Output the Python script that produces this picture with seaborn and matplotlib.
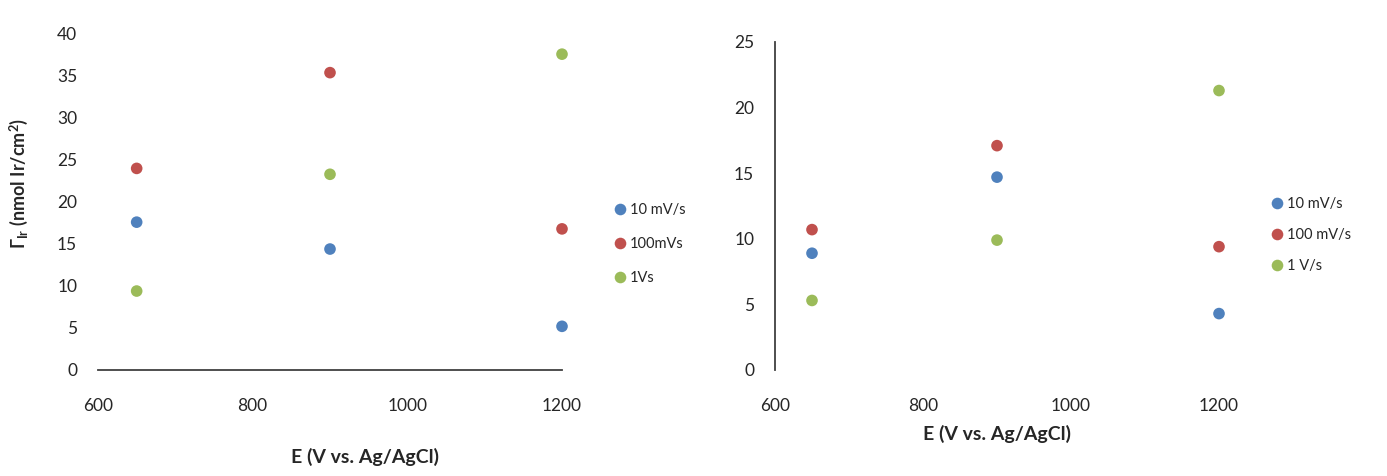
import matplotlib
matplotlib.use("Agg")
import matplotlib.pyplot as plt
import seaborn as sns
import pandas as pd

# ---------------- data ----------------
potential = [650, 900, 1200]

left_labels = ["10 mV/s", "100mVs", "1Vs"]
left_10mV = [17.6, 14.4, 5.2]
left_100mV = [24.0, 35.4, 16.8]
left_1V = [9.4, 23.3, 37.6]

right_labels = ["10 mV/s", "100 mV/s", "1 V/s"]
right_10mV = [8.9, 14.7, 4.3]
right_100mV = [10.7, 17.1, 9.4]
right_1V = [5.3, 9.9, 21.3]

x_ticks = [600, 800, 1000, 1200]
left_y_ticks = [0, 5, 10, 15, 20, 25, 30, 35, 40]
right_y_ticks = [0, 5, 10, 15, 20, 25]

colors = ["#4F81BD", "#C0504D", "#9BBB59"]

# ---------------- style ----------------
sns.set_theme(style="white")
plt.rcParams["font.family"] = ["Lato", "DejaVu Sans"]
plt.rcParams["mathtext.fontset"] = "custom"
plt.rcParams["mathtext.rm"] = "Lato"
plt.rcParams["mathtext.bf"] = "Lato:bold"
plt.rcParams["mathtext.it"] = "Lato:italic"
TXT = "#262626"


def long_df(labels, series):
    rows = []
    for lab, vals in zip(labels, series):
        for e, v in zip(potential, vals):
            rows.append({"E": e, "G": v, "rate": lab})
    return pd.DataFrame(rows)


fig = plt.figure(figsize=(13.87, 4.76), dpi=100)

ax1 = fig.add_axes([98 / 1387, 106 / 476, 464 / 1387, 336 / 476])
ax2 = fig.add_axes([775 / 1387, 106 / 476, 444 / 1387, 328 / 476])

df1 = long_df(left_labels, [left_10mV, left_100mV, left_1V])
df2 = long_df(right_labels, [right_10mV, right_100mV, right_1V])

for ax, df, labels in [(ax1, df1, left_labels), (ax2, df2, right_labels)]:
    sns.scatterplot(data=df, x="E", y="G", hue="rate", hue_order=labels,
                    palette=colors, s=70, edgecolor="none", ax=ax,
                    clip_on=False)

ax1.set_xlim(600, 1200)
ax1.set_ylim(0, 40)
ax1.set_yticks(left_y_ticks)
ax2.set_xlim(600, 1200)
ax2.set_ylim(0, 25)
ax2.set_yticks(right_y_ticks)

for ax in (ax1, ax2):
    ax.set_xticks(x_ticks)
    ax.tick_params(axis="both", length=0, labelsize=12.5, colors=TXT)
    ax.tick_params(axis="x", pad=20)
    ax.tick_params(axis="y", pad=15)
    for sp in ax.spines.values():
        sp.set_visible(False)

ax1.spines["bottom"].set_visible(True)
ax1.spines["bottom"].set_color("#404040")
ax1.spines["bottom"].set_linewidth(1.3)
ax2.spines["left"].set_visible(True)
ax2.spines["left"].set_color("#404040")
ax2.spines["left"].set_linewidth(1.3)

ax1.set_xlabel("E (V vs. Ag/AgCl)", fontsize=14, fontweight="bold", color=TXT)
ax1.xaxis.set_label_coords((365 - 98) / 464, -(448 - 370) / 336)
ax1.set_ylabel(r"Γ$_{\mathbf{Ir}}$ (nmol Ir/cm$^{\mathbf{2}}$)", fontsize=13,
               fontweight="bold", color=TXT)
ax1.yaxis.set_label_coords((30 - 98) / 464, (370 - 183) / 336)

ax2.set_xlabel("E (V vs. Ag/AgCl)", fontsize=14, fontweight="bold", color=TXT)
ax2.xaxis.set_label_coords(0.5, -(425 - 370) / 328)
ax2.set_ylabel("")

# legends
for ax, anchor, spacing in [(ax1, (614 / 1387, 1 - 244 / 476), 1.35),
                            (ax2, (1271 / 1387, 1 - 235 / 476), 1.15)]:
    leg = ax.legend(loc="center left", bbox_to_anchor=anchor,
                    bbox_transform=fig.transFigure, frameon=False,
                    fontsize=10.5, handlelength=0.8, handletextpad=0.3,
                    labelspacing=spacing, borderpad=0, borderaxespad=0,
                    title=None)
    for h in leg.legend_handles:
        try:
            h.set_sizes([40])
        except Exception:
            pass
    for t in leg.get_texts():
        t.set_color(TXT)

fig.savefig("out.png", dpi=100, facecolor="white")
